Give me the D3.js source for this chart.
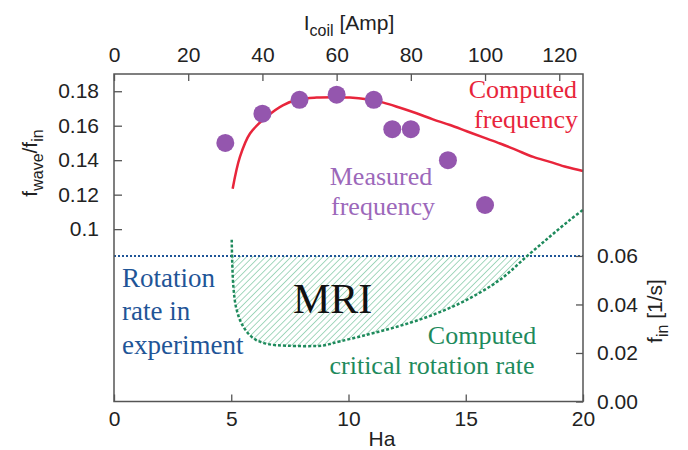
<!DOCTYPE html>
<html>
<head>
<meta charset="utf-8">
<script src="https://cdn.jsdelivr.net/npm/d3@7"></script>
<style>
  body { margin: 0; background: #fff; }
  svg text { font-family: "Liberation Sans", Arial, sans-serif; }
  .serif { font-family: "Liberation Serif", "Times New Roman", serif !important; }
</style>
</head>
<body>
<div id="chart"></div>
<script>
// measured points: coil current [A] vs f_wave/f_in
var measI    = [30, 40, 50, 60, 70, 75, 80, 90, 100];
var measFreq = [0.150, 0.167, 0.175, 0.178, 0.175, 0.158, 0.158, 0.140, 0.114];

// computed frequency (red), Ha vs f_wave/f_in
var compHa   = [5.06, 5.37, 5.80, 6.51, 7.22, 7.93, 8.64, 9.35, 10.06, 10.78, 11.49, 12.2, 12.9, 13.6, 14.33, 15.04, 15.75, 16.46, 17.17, 17.88, 18.59, 19.3, 20.0];
var compFreq = [0.1234, 0.1419, 0.1555, 0.1652, 0.1720, 0.1753, 0.1763, 0.1765, 0.1763, 0.1753, 0.1734, 0.1704, 0.1672, 0.1637, 0.1604, 0.1568, 0.1532, 0.1497, 0.1458, 0.1419, 0.1390, 0.1360, 0.1337];

// computed critical rotation rate (green), Ha vs f_in [1/s]
var critHa   = [5.02, 5.09, 5.23, 5.51, 5.94, 6.51, 7.36, 8.93, 9.35, 10.78, 12.2, 13.62, 15.04, 16.46, 17.6, 18.59, 19.45, 20.0];
var critRate = [0.0667, 0.0474, 0.0378, 0.0309, 0.0261, 0.0238, 0.0230, 0.0231, 0.0241, 0.0275, 0.0312, 0.0358, 0.0419, 0.0502, 0.0598, 0.0680, 0.0749, 0.0790];

var expRate = 0.06;   // rotation rate in experiment

var haTicks    = [0, 5, 10, 15, 20];
var coilTicks  = [0, 20, 40, 60, 80, 100, 120];
var leftTicks  = [0.1, 0.12, 0.14, 0.16, 0.18];
var rightTicks = [0, 0.02, 0.04, 0.06];

var W = 688, H = 450;
var L = 114, R = 583, T = 74, B = 401.5;

var svg = d3.select("#chart").append("svg")
  .attr("width", W).attr("height", H);

var x  = d3.scaleLinear().domain([0, 20]).range([L, R]);
var xI = d3.scaleLinear().domain([0, 126.4]).range([L, R]);
var yL = d3.scaleLinear().domain([0, 0.19]).range([B, T]);
var yR = d3.scaleLinear().domain([0, 0.135]).range([B, T]);

var red = "#e8253b", purple = "#9456ae", green = "#1e8a5c", blue = "#1f5597";

// hatch pattern
var defs = svg.append("defs");
defs.append("pattern")
  .attr("id", "hatch")
  .attr("patternUnits", "userSpaceOnUse")
  .attr("width", 4.5).attr("height", 4.5)
  .attr("patternTransform", "rotate(45)")
  .append("line")
  .attr("x1", 0).attr("y1", 0).attr("x2", 0).attr("y2", 4.5)
  .attr("stroke", "#5cb88a").attr("stroke-width", 1.1);

var critData = critHa.map(function(h, i){ return {x: h, y: critRate[i]}; });

// MRI region
svg.append("path")
  .datum(critData)
  .attr("fill", "url(#hatch)")
  .attr("d", d3.area()
    .x(function(d){ return x(d.x); })
    .y0(yR(expRate))
    .y1(function(d){ return yR(Math.min(d.y, expRate)); })
    .curve(d3.curveCatmullRom));

// rotation rate in experiment
svg.append("line")
  .attr("x1", L).attr("x2", R)
  .attr("y1", yR(expRate)).attr("y2", yR(expRate))
  .attr("stroke", blue).attr("stroke-width", 2)
  .attr("stroke-dasharray", "2,2");

// critical rotation rate
svg.append("path")
  .datum(critData)
  .attr("fill", "none")
  .attr("stroke", green).attr("stroke-width", 2.5)
  .attr("stroke-dasharray", "3,2")
  .attr("d", d3.line()
    .x(function(d){ return x(d.x); })
    .y(function(d){ return yR(d.y); })
    .curve(d3.curveCatmullRom));

// computed frequency
svg.append("path")
  .datum(compHa.map(function(h, i){ return {x: h, y: compFreq[i]}; }))
  .attr("fill", "none")
  .attr("stroke", red).attr("stroke-width", 2.5)
  .attr("d", d3.line()
    .x(function(d){ return x(d.x); })
    .y(function(d){ return yL(d.y); })
    .curve(d3.curveCatmullRom));

// measured frequency
svg.selectAll("circle.meas")
  .data(measI.map(function(c, i){ return {x: c, y: measFreq[i]}; }))
  .enter().append("circle")
  .attr("class", "meas")
  .attr("cx", function(d){ return xI(d.x); })
  .attr("cy", function(d){ return yL(d.y); })
  .attr("r", 9)
  .attr("fill", purple);

// frame
svg.append("rect")
  .attr("x", L).attr("y", T)
  .attr("width", R - L).attr("height", B - T)
  .attr("fill", "none").attr("stroke", "#555").attr("stroke-width", 1.5);

function style(g){
  g.select(".domain").remove();
  g.selectAll(".tick line").attr("stroke", "#555").attr("stroke-width", 1.3);
  g.selectAll(".tick text").attr("fill", "#222").style("font-size", "21px")
    .style("font-family", "Liberation Sans, Arial, sans-serif");
}

svg.append("g").attr("transform", "translate(0," + B + ")")
  .call(d3.axisBottom(x).tickValues(haTicks).tickSize(-7).tickPadding(10).tickFormat(d3.format("d")))
  .call(style);

svg.append("g").attr("transform", "translate(0," + T + ")")
  .call(d3.axisTop(xI).tickValues(coilTicks).tickSize(-7).tickPadding(12).tickFormat(d3.format("d")))
  .call(style);

svg.append("g").attr("transform", "translate(" + L + ",0)")
  .call(d3.axisLeft(yL).tickValues(leftTicks).tickSize(-8).tickPadding(15)
    .tickFormat(function(d){ return d === 0.1 ? "0.1" : d3.format(".2f")(d); }))
  .call(style);

svg.append("g").attr("transform", "translate(" + R + ",0)")
  .call(d3.axisRight(yR).tickValues(rightTicks).tickSize(-7).tickPadding(14).tickFormat(d3.format(".2f")))
  .call(style);

// axis titles
var topTitle = svg.append("text").attr("x", 349).attr("y", 30)
  .attr("text-anchor", "middle").style("font-size", "21px").attr("fill", "#222");
topTitle.append("tspan").text("I");
topTitle.append("tspan").attr("dy", 6).style("font-size", "16px").text("coil");
topTitle.append("tspan").attr("dy", -6).text(" [Amp]");

svg.append("text").attr("x", 382).attr("y", 446)
  .attr("text-anchor", "middle").style("font-size", "21px").attr("fill", "#222").text("Ha");

var leftTitle = svg.append("text")
  .attr("transform", "translate(37,163) rotate(-90)")
  .attr("text-anchor", "middle").style("font-size", "21px").attr("fill", "#222");
leftTitle.append("tspan").text("f");
leftTitle.append("tspan").attr("dy", 6).style("font-size", "16px").text("wave");
leftTitle.append("tspan").attr("dy", -6).text("/f");
leftTitle.append("tspan").attr("dy", 6).style("font-size", "16px").text("in");

var rightTitle = svg.append("text")
  .attr("transform", "translate(662,311) rotate(-90)")
  .attr("text-anchor", "middle").style("font-size", "21px").attr("fill", "#222");
rightTitle.append("tspan").text("f");
rightTitle.append("tspan").attr("dy", 6).style("font-size", "16px").text("in");
rightTitle.append("tspan").attr("dy", -6).text(" [1/s]");

// annotations: one text element per label, one tspan per line
function note(lines, px, py, anchor, color, size){
  var t = svg.append("text").attr("class", "serif")
    .attr("text-anchor", anchor)
    .style("font-size", (size || 27) + "px")
    .attr("fill", color);
  lines.forEach(function(s, i){
    t.append("tspan").attr("x", px[i]).attr("y", py[i]).text(s);
  });
}
note(["Computed", "frequency"], [577, 578], [98, 128], "end", red, 26);
note(["Measured", "frequency"], [381, 383], [185, 215], "middle", "#9c68ba", 26);
note(["Rotation", "rate in", "experiment"], [122, 122, 122], [287, 320, 354], "start", blue);
note(["MRI"], [293], [313], "start", "#111", 42);
note(["Computed", "critical rotation rate"], [482, 432], [344, 374], "middle", green, 26);
</script>
</body>
</html>
